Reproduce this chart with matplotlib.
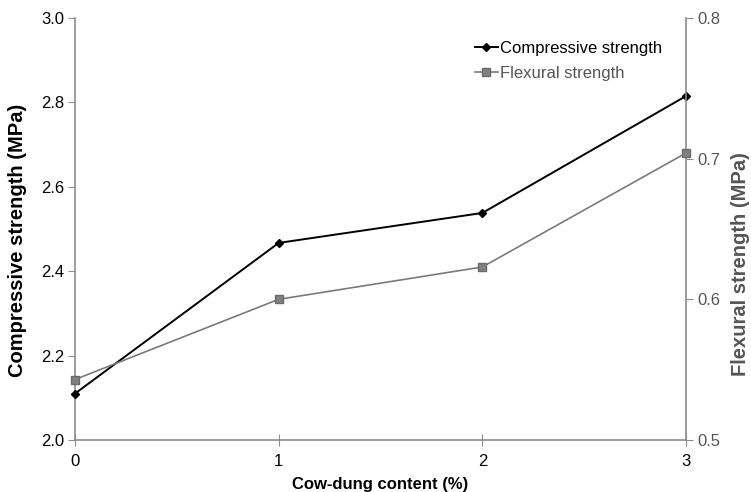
import matplotlib
matplotlib.use("Agg")
import matplotlib.pyplot as plt

# Cow-dung content (%) and measured strengths
cow_dung = [0, 1, 2, 3]
compressive = [2.11, 2.467, 2.538, 2.815]
flexural = [0.543, 0.600, 0.623, 0.704]

x_ticks = [0, 1, 2, 3]
left_ticks = [2.0, 2.2, 2.4, 2.6, 2.8, 3.0]
right_ticks = [0.5, 0.6, 0.7, 0.8]

plt.rcParams['font.family'] = ['Liberation Sans', 'DejaVu Sans']
plt.rcParams['font.size'] = 12

axis_gray = '#8c8c8c'
flex_gray = '#7a7a7a'
label_gray = '#555555'

fig = plt.figure(figsize=(7.51, 4.92), dpi=100)
ax = fig.add_axes([75 / 751, 1 - 440 / 492, (686 - 75) / 751, (440 - 18) / 492])
ax2 = ax.twinx()

l1, = ax.plot(cow_dung, compressive, color='black', lw=1.4, marker='D',
              markersize=4.5, markerfacecolor='black', markeredgecolor='black',
              label='Compressive strength', zorder=3)
l2, = ax2.plot(cow_dung, flexural, color=flex_gray, lw=1.2, marker='s',
               markersize=6, markerfacecolor='#808080', markeredgecolor='#6a6a6a',
               label='Flexural strength', zorder=3)

ax.set_xlim(0, 3)
ax.set_ylim(2.0, 3.0)
ax2.set_ylim(0.5, 0.8)
ax.set_xticks(x_ticks)
ax.set_xticklabels([str(v) for v in x_ticks])
ax.set_yticks(left_ticks)
ax.set_yticklabels([f'{v:.1f}' for v in left_ticks])
ax2.set_yticks(right_ticks)
ax2.set_yticklabels([f'{v:.1f}' for v in right_ticks])

for a in (ax, ax2):
    a.spines['top'].set_visible(False)
    for s in ('left', 'right', 'bottom'):
        a.spines[s].set_color(axis_gray)
        a.spines[s].set_linewidth(1.2)
    a.set_facecolor('none')
ax2.spines['left'].set_visible(False)
ax2.spines['bottom'].set_visible(False)
ax.spines['right'].set_visible(False)

ax.tick_params(axis='y', direction='out', length=5, color=axis_gray, labelcolor='black', pad=3)
ax.tick_params(axis='x', direction='inout', length=8, color=axis_gray, labelcolor='black', pad=6)
ax2.tick_params(axis='y', direction='out', length=5, color=axis_gray, labelcolor=label_gray, pad=3)

for line in (l1, l2):
    line.set_clip_on(False)

ax.set_xlabel('Cow-dung content (%)', fontweight='bold', labelpad=6)
ax.set_ylabel('Compressive strength (MPa)', fontweight='bold', fontsize=14.5)
ax.yaxis.set_label_coords(-48 / 611, (440 - 240) / 422)
ax2.set_ylabel('Flexural strength (MPa)', fontweight='bold', color=label_gray, fontsize=14.5)
ax2.yaxis.set_label_coords(1 + 45 / 611, (440 - 264) / 422)

leg = ax.legend(handles=[l1, l2], loc='upper left', bbox_to_anchor=((468 - 75) / 611, (440 - 34) / 422),
                frameon=False, handlelength=1.4, handletextpad=0.1, borderaxespad=0,
                labelspacing=0.6, fontsize=12)
for txt, c in zip(leg.get_texts(), ['black', label_gray]):
    txt.set_color(c)

fig.savefig('out.png', dpi=100)
